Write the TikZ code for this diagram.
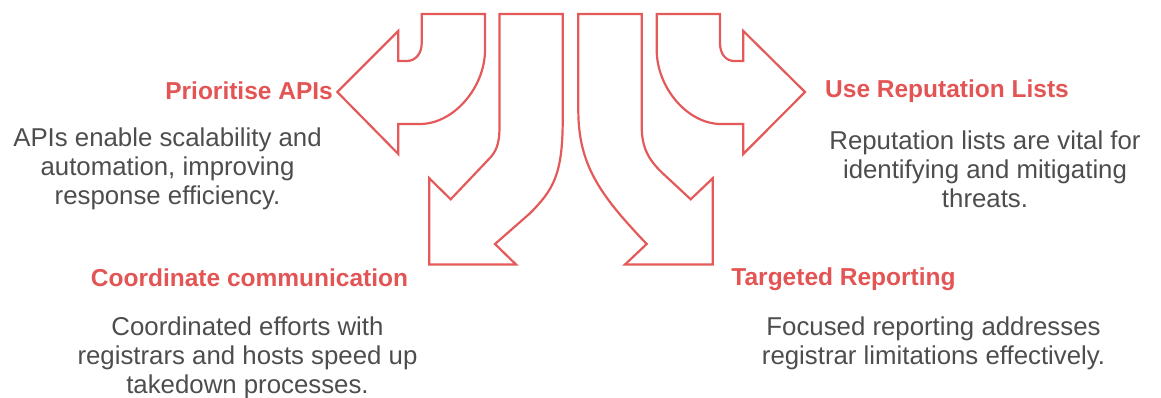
\documentclass[tikz,border=0pt]{standalone}
\usepackage{fontspec}
\setmainfont{Liberation Sans}
\definecolor{arrowred}{HTML}{E45A5A}
\definecolor{headred}{HTML}{E35555}
\definecolor{bodygrey}{HTML}{4D4D4D}
\begin{document}
\begin{tikzpicture}[x=1pt,y=-1pt,
  arrowshape/.style={draw=arrowred,line width=2.2pt,line join=miter,fill=white},
  headtext/.style={text=headred,font=\fontsize{24.5}{28}\selectfont\bfseries,inner sep=0pt},
  bodytext/.style={text=bodygrey,font=\fontsize{25.8}{29}\selectfont,align=center,inner sep=0pt}]
\useasboundingbox (0,0) rectangle (1161,398);
% arrow to "Prioritise APIs"
\draw[arrowshape] (421.7,14) -- (485,14) -- (485,50)
  .. controls (485,87) and (454,124) .. (420,124)
  -- (398.3,124) -- (398.3,154) -- (337.3,92) -- (398.3,31) -- (398.3,61)
  -- (406.7,61) .. controls (415,61) and (421.7,54.3) .. (421.7,43) -- cycle;
% arrow to "Coordinate communication"
\draw[arrowshape] (499.5,14) -- (562.7,14) -- (562.7,120)
  .. controls (562.7,175) and (553,190) .. (530,213.3)
  -- (495,244) -- (516,264.5) -- (429.3,264.5) -- (429.3,178.3) -- (450.7,199.3)
  -- (488,160) .. controls (496,152) and (499.5,145) .. (499.5,126) -- cycle;
% arrow to "Targeted Reporting"
\draw[arrowshape] (641.7,14) -- (578.3,14) -- (578.3,110)
  .. controls (578.3,165) and (600,195) .. (646.7,244)
  -- (625,264.5) -- (712.7,264.5) -- (712.7,178.3) -- (690.7,199.3)
  -- (666.7,177) .. controls (650,162) and (641.7,150) .. (641.7,126) -- cycle;
% arrow to "Use Reputation Lists"
\draw[arrowshape] (720,14) -- (656.7,14) -- (656.7,50)
  .. controls (656.7,87) and (687,124) .. (721,124)
  -- (743.3,124) -- (743.3,154) -- (805,92) -- (743.3,31) -- (743.3,61)
  -- (734.3,61) .. controls (726,61) and (720,54.3) .. (720,43) -- cycle;
% headings
\node[headtext,anchor=east] (h1) at (333,91) {Prioritise APIs};
\node[headtext,anchor=west] (h2) at (825,91) {Use Reputation Lists};
\node[headtext] (h3) at (249.5,278) {Coordinate communication};
\node[headtext] (h4) at (843.5,279) {Targeted Reporting};
% descriptions
\node[bodytext] (d1) at (167.5,169) {APIs enable scalability and\\automation, improving\\response efficiency.};
\node[bodytext] (d2) at (985,169) {Reputation lists are vital for\\identifying and mitigating\\threats.};
\node[bodytext] (d3) at (247.5,357.5) {Coordinated efforts with\\registrars and hosts speed up\\takedown processes.};
\node[bodytext] (d4) at (933.5,343) {Focused reporting addresses\\registrar limitations effectively.};
\end{tikzpicture}
\end{document}
